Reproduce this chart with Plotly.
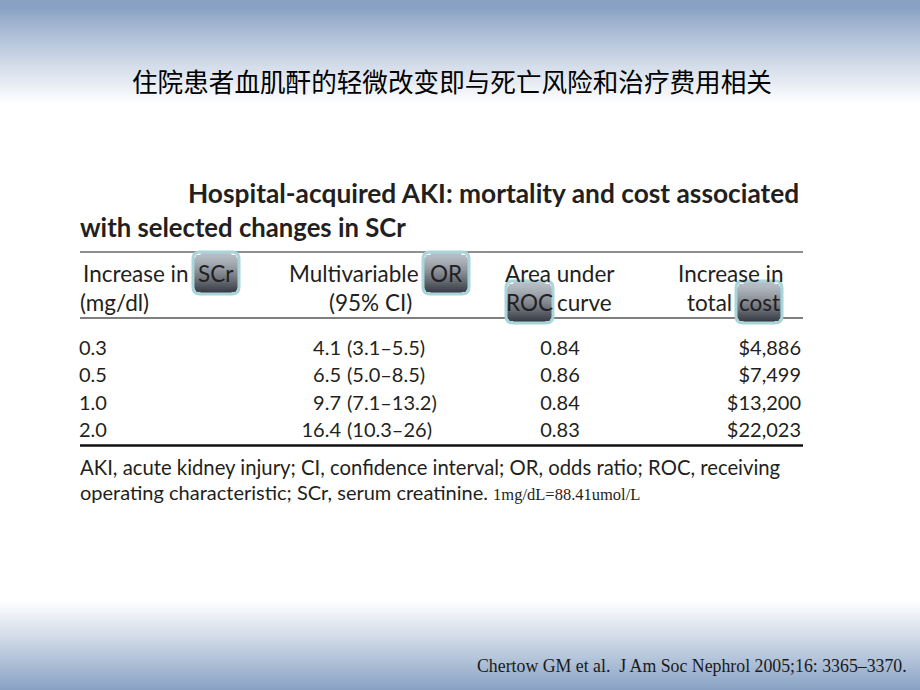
import math
import plotly.graph_objects as go

# slide texts
slide_title = "住院患者血肌酐的轻微改变即与死亡风险和治疗费用相关"
table_title = ["Hospital-acquired AKI: mortality and cost associated", "with selected changes in SCr"]
footnote = ["AKI, acute kidney injury; CI, confidence interval; OR, odds ratio; ROC, receiving",
            "operating characteristic; SCr, serum creatinine."]
unit_note = "1mg/dL=88.41umol/L"
citation = "Chertow GM et al.  J Am Soc Nephrol 2005;16: 3365–3370."

# table data
scr_increase = [0.3, 0.5, 1.0, 2.0]
odds_ratio = [4.1, 6.5, 9.7, 16.4]
ci_low = [3.1, 5.0, 7.1, 10.3]
ci_high = [5.5, 8.5, 13.2, 26]
roc_auc = [0.84, 0.86, 0.84, 0.83]
cost_increase = [4886, 7499, 13200, 22023]

W, H = 920, 690
TXT = "#231f20"
FONT = "Lato"

fig = go.Figure()

shapes = []


def mix(c1, c2, t):
    return "rgb(%d,%d,%d)" % tuple(round(a + (b - a) * t) for a, b in zip(c1, c2))


# background gradient bands (top and bottom)
blue = (137, 162, 196)
white = (255, 255, 255)
for i in range(55):
    y0 = i * 2
    t = min(1, max(0, (y0 - 8) / 95.0))
    shapes.append(dict(type="rect", x0=0, x1=W, y0=y0, y1=y0 + 2.6, line_width=0,
                       fillcolor=mix(blue, white, t ** 0.9), layer="below"))
for i in range(50):
    y0 = 590 + i * 2
    t = min(1, max(0, (y0 - 598) / 90.0))
    shapes.append(dict(type="rect", x0=0, x1=W, y0=y0, y1=y0 + 2.6, line_width=0,
                       fillcolor=mix(white, blue, t ** 1.1), layer="below"))

# table rules
shapes.append(dict(type="line", x0=80, x1=803, y0=252, y1=252, line=dict(color="#6a6a6a", width=1.5), layer="below"))
shapes.append(dict(type="line", x0=80, x1=803, y0=318, y1=318, line=dict(color="#555555", width=1.5), layer="below"))
shapes.append(dict(type="line", x0=80, x1=803, y0=445.5, y1=445.5, line=dict(color="#111111", width=2.5), layer="below"))


def rounded(x0, y0, x1, y1, r):
    return (f"M{x0+r},{y0} L{x1-r},{y0} Q{x1},{y0} {x1},{y0+r} L{x1},{y1-r} Q{x1},{y1} {x1-r},{y1} "
            f"L{x0+r},{y1} Q{x0},{y1} {x0},{y1-r} L{x0},{y0+r} Q{x0},{y0} {x0+r},{y0} Z")


# highlight boxes round a few header words
boxes = {"SCr": (193, 252, 239, 294), "OR": (423, 252, 469, 294),
         "ROC": (506, 281, 553, 323), "cost": (736, 281, 782, 323)}
top_c, bot_c = (184, 190, 198), (55, 59, 68)
for name, (x0, y0, x1, y1) in boxes.items():
    xi0, xi1, yi0, yi1 = x0 + 1, x1 - 1, y0 + 1, y1 - 1
    ri = 6.5
    n = 20
    hh = (yi1 - yi0) / n
    for k in range(n):
        a, b = yi0 + k * hh, yi0 + (k + 1) * hh
        d = min(a - yi0, yi1 - b)
        inset = ri - math.sqrt(max(0, ri * ri - (ri - d) ** 2)) if d < ri else 0
        b2 = b + 1.2 if k < n - 1 else b
        shapes.append(dict(type="rect", x0=xi0 + inset, x1=xi1 - inset, y0=a, y1=b2,
                           line_width=0, fillcolor=mix(top_c, bot_c, (k / (n - 1)) ** 1.3), layer="below"))
    shapes.append(dict(type="path", path=rounded(x0, y0, x1, y1, 7), fillcolor="rgba(0,0,0,0)",
                       line=dict(color="#a9d4da", width=3), layer="below"))

fig.update_layout(shapes=shapes)

# table body cells
row_y = [349.5 + i * 27.6 for i in range(len(scr_increase))]
cell_font = dict(family=FONT, size=20, color=TXT)


def col(xpos, texts, pos):
    fig.add_trace(go.Scatter(x=[xpos] * len(texts), y=row_y, mode="text", text=texts,
                             textposition=pos, textfont=cell_font, hoverinfo="skip"))


col(79, [f"{v:.1f}" for v in scr_increase], "middle right")
col(341, [f"{v:.1f}" for v in odds_ratio], "middle left")
col(347, [f"({a:.1f}–{b:g})" for a, b in zip(ci_low, ci_high)], "middle right")
col(560, [f"{v:.2f}" for v in roc_auc], "middle center")
col(801, [f"${v:,}" for v in cost_increase], "middle left")

# header pieces: (text, x, y, anchor)
header = [
    ("Increase in", 191, 273, "right"), ("SCr", 216, 273, "center"),
    ("(mg/dl)", 78, 302, "left"),
    ("Multivariable", 421, 273, "right"), ("OR", 446, 273, "center"),
    ("(95% CI)", 370, 302, "center"),
    ("Area under", 560, 273, "center"), ("ROC", 529.5, 302, "center"), ("curve", 555, 302, "left"),
    ("Increase in", 731, 273, "center"), ("total", 734, 302, "right"), ("cost", 759, 302, "center"),
]
ann = []
for t, x, y, a in header:
    ann.append(dict(text=t, x=x, y=y, xanchor=a, yanchor="middle", showarrow=False,
                    font=dict(family=FONT, size=22.5, color=TXT)))

ann.append(dict(text=slide_title, x=452, y=80, xanchor="center", yanchor="middle", showarrow=False,
                font=dict(family="Noto Sans CJK SC", size=25.6, color="#000000")))
ann.append(dict(text="<b>" + table_title[0] + "</b>", x=801, y=193, xanchor="right", yanchor="middle",
                showarrow=False, font=dict(family=FONT, size=26.3, color=TXT)))
ann.append(dict(text="<b>" + table_title[1] + "</b>", x=78, y=227, xanchor="left", yanchor="middle",
                showarrow=False, font=dict(family=FONT, size=25.7, color=TXT)))
ann.append(dict(text=footnote[0], x=78, y=467, xanchor="left", yanchor="middle", showarrow=False,
                font=dict(family=FONT, size=20.3, color=TXT)))
ann.append(dict(text=footnote[1] + " <span style='font-family:Liberation Serif;font-size:16.5px'>" + unit_note + "</span>",
                x=78, y=492, xanchor="left", yanchor="middle", showarrow=False,
                font=dict(family=FONT, size=20, color=TXT)))
ann.append(dict(text=citation, x=909, y=666, xanchor="right", yanchor="middle", showarrow=False,
                font=dict(family="Liberation Serif", size=17.8, color="#1a1a1a")))
for a in ann:
    a["xref"] = "x"
    a["yref"] = "y"

fig.update_layout(
    annotations=ann,
    width=W, height=H,
    margin=dict(l=0, r=0, t=0, b=0),
    paper_bgcolor="white", plot_bgcolor="white",
    showlegend=False,
    xaxis=dict(range=[0, W], visible=False, fixedrange=True),
    yaxis=dict(range=[H, 0], visible=False, fixedrange=True),
)

fig.write_html("out.html", post_script="document.body.style.margin='0';",
               config={"displayModeBar": False})
